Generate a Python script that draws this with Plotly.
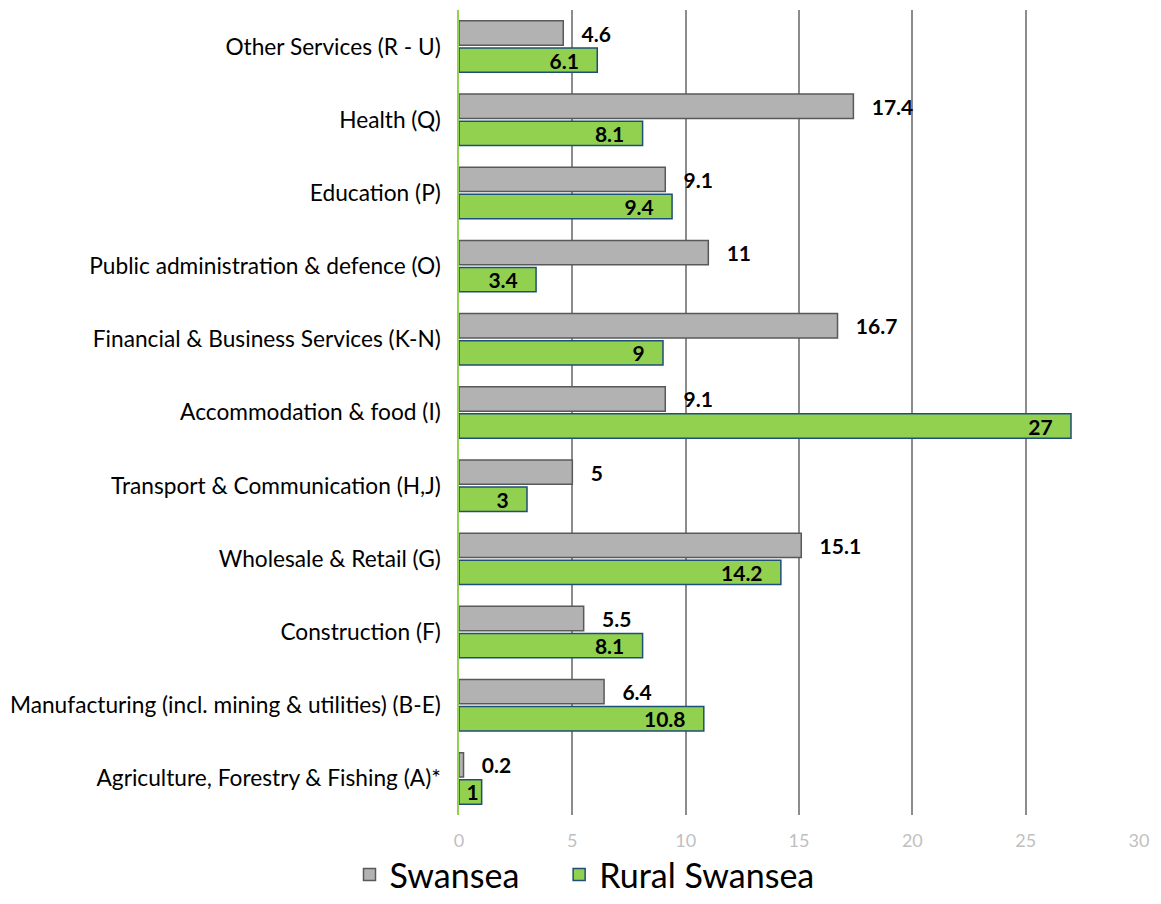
import plotly.graph_objects as go

categories = [
    "Agriculture, Forestry & Fishing (A)*",
    "Manufacturing (incl. mining & utilities) (B-E)",
    "Construction (F)",
    "Wholesale & Retail (G)",
    "Transport & Communication (H,J)",
    "Accommodation & food (I)",
    "Financial & Business Services (K-N)",
    "Public administration & defence (O)",
    "Education (P)",
    "Health (Q)",
    "Other Services (R - U)",
]
swansea = [0.2, 6.4, 5.5, 15.1, 5, 9.1, 16.7, 11, 9.1, 17.4, 4.6]
rural = [1, 10.8, 8.1, 14.2, 3, 27, 9, 3.4, 9.4, 8.1, 6.1]
x_ticks = [0, 5, 10, 15, 20, 25, 30]

GRAY, GRAY_LINE = "#b2b2b2", "#595959"
GREEN, GREEN_LINE = "#92d050", "#1f4e79"
NB = "\u00a0"
fig = go.Figure()
fig.add_trace(go.Bar(
    y=categories, x=rural, orientation="h", name="Rural Swansea",
    marker=dict(color=GREEN, line=dict(color=GREEN_LINE, width=1.5)),
    text=[f"{v:g}" + (NB * 3 if v >= 2 else "") for v in rural], textposition="inside",
    insidetextanchor="end", constraintext="none", textangle=0,
    textfont=dict(family="Lato, sans-serif", size=21, color="black", weight="bold"),
    legendrank=2,
))
fig.add_trace(go.Bar(
    y=categories, x=swansea, orientation="h", name="Swansea" + NB * 4,
    marker=dict(color=GRAY, line=dict(color=GRAY_LINE, width=1.5)),
    text=[NB * 3 + f"{v:g}" for v in swansea], textposition="outside",
    constraintext="none", cliponaxis=False, textangle=0,
    textfont=dict(family="Lato, sans-serif", size=21, color="black", weight="bold"),
    legendrank=1,
))

fig.update_layout(
    width=1153, height=896,
    margin=dict(l=451, r=22, t=2, b=89),
    barmode="group", bargap=0.26, bargroupgap=0.1,
    plot_bgcolor="white", paper_bgcolor="white",
    font=dict(family="Lato, sans-serif"),
    showlegend=True,
    legend=dict(
        orientation="h", xref="container", x=0.5, xanchor="center",
        yref="container", y=0.0, yanchor="bottom", bgcolor="rgba(0,0,0,0)",
        font=dict(size=34, color="black"), itemwidth=30,
    ),
    xaxis=dict(
        range=[0, 30], tickvals=x_ticks, showgrid=True, gridcolor="#8c8c8c",
        gridwidth=2, zeroline=False, showline=False, automargin=False,
        tickfont=dict(size=18, color="#bfbfbf"), ticks="", ticklen=0,
        ticklabelstandoff=13,
    ),
    yaxis=dict(
        showline=True, linecolor=GREEN, linewidth=2, showgrid=False,
        tickfont=dict(size=22.7, color="black"), ticks="", ticksuffix="  ",
    ),
)
fig.write_html("out.html")
